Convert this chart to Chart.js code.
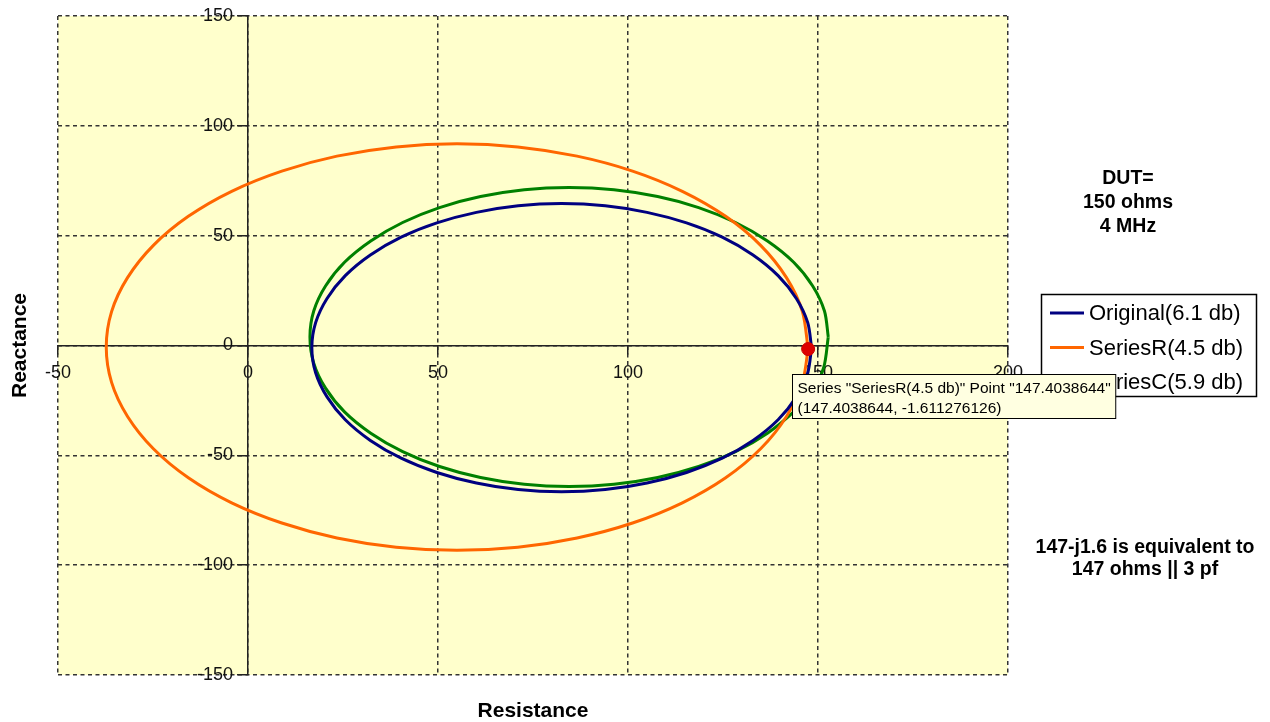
<!DOCTYPE html>
<html>
<head>
<meta charset="utf-8">
<script src="https://cdn.jsdelivr.net/npm/chart.js@4/dist/chart.umd.min.js"></script>
<style>
  html, body { margin: 0; padding: 0; background: #ffffff; }
  canvas { display: block; }
</style>
</head>
<body>
<canvas id="chart" width="1270" height="722"></canvas>
<script>
// Impedance loci: resistance (R) and reactance (X), ohms
const seriesNames = ['Original(6.1 db)', 'SeriesR(4.5 db)', 'SeriesC(5.9 db)'];
const seriesColors = ['#000080', '#FF6600', '#008000'];

const origRes   = [148.3, 147.3, 144.3, 139.5, 132.9, 124.8, 115.4, 105.0, 94.0, 82.5, 71.1, 60.1, 49.7, 40.3, 32.2, 25.6, 20.8, 17.8, 16.8, 17.8, 20.8, 25.6, 32.2, 40.3, 49.7, 60.1, 71.1, 82.5, 94.0, 105.0, 115.4, 124.8, 132.9, 139.5, 144.3, 147.3, 148.3];
const origReact = [-1.0, 10.4, 21.4, 31.8, 41.2, 49.3, 55.8, 60.6, 63.6, 64.6, 63.6, 60.6, 55.8, 49.3, 41.2, 31.8, 21.4, 10.4, -1.0, -12.4, -23.4, -33.8, -43.2, -51.3, -57.8, -62.6, -65.6, -66.6, -65.6, -62.6, -57.8, -51.3, -43.2, -33.8, -23.4, -12.4, -1.0];

const serRRes   = [147.4038644, 145.9, 141.7, 134.9, 125.7, 114.3, 101.2, 86.6, 71.0, 55.0, 39.0, 23.4, 8.9, -4.3, -15.7, -24.9, -31.7, -35.9, -37.3, -35.9, -31.7, -24.9, -15.7, -4.3, 8.9, 23.4, 39.0, 55.0, 71.0, 86.6, 101.2, 114.3, 125.7, 134.9, 141.7, 145.9, 147.4038644];
const serRReact = [-1.611276126, 15.4, 30.9, 45.6, 58.8, 70.2, 79.4, 86.2, 90.4, 91.8, 90.4, 86.2, 79.4, 70.2, 58.8, 45.6, 30.9, 15.4, -0.7, -16.8, -32.3, -47.0, -60.2, -71.6, -80.8, -87.6, -91.8, -93.2, -91.8, -87.6, -80.8, -71.6, -60.2, -47.0, -32.3, -16.8, -1.611276126];

const serCRes   = [152.7, 151.7, 148.6, 143.6, 136.7, 128.3, 118.6, 107.8, 96.3, 84.5, 72.7, 61.2, 50.4, 40.7, 32.3, 25.4, 20.4, 17.3, 16.3, 17.3, 20.4, 25.4, 32.3, 40.7, 50.4, 61.2, 72.7, 84.5, 96.3, 107.8, 118.6, 128.3, 136.7, 143.6, 148.3, 151.5, 152.7];
const serCReact = [3.9, 15.7, 27.1, 37.9, 47.6, 56.0, 62.8, 67.8, 70.9, 71.9, 70.9, 67.8, 62.8, 56.0, 47.6, 37.9, 27.1, 15.7, 3.9, -8.0, -19.4, -30.2, -39.9, -48.3, -55.1, -60.1, -63.2, -64.2, -63.2, -60.1, -55.1, -48.3, -39.9, -30.2, -21.5, -10.0, 3.9];

// Highlighted SeriesR point
const markerRes = [147.4038644];
const markerReact = [-1.611276126];

const resTicks = [-50, 0, 50, 100, 150, 200];
const reactTicks = [-150, -100, -50, 0, 50, 100, 150];

const dutNote = ['DUT=', '150 ohms', '4 MHz'];
const equivNote = ['147-j1.6 is equivalent to', '147 ohms || 3 pf'];

const FONT = "'Liberation Sans', Arial, Helvetica, sans-serif";

function toPoints(xs, ys) {
  return xs.map((x, i) => ({ x: x, y: ys[i] }));
}

const loci = [
  toPoints(origRes, origReact),
  toPoints(serRRes, serRReact),
  toPoints(serCRes, serCReact)
];

const datasets = loci.map((pts, i) => ({
  label: seriesNames[i],
  data: pts,
  showLine: true,
  borderColor: seriesColors[i],
  backgroundColor: seriesColors[i],
  borderWidth: 3,
  pointRadius: 0,
  pointHoverRadius: 0,
  tension: 0.3,
  fill: false
}));

datasets.push({
  label: 'marker',
  data: toPoints(markerRes, markerReact),
  showLine: false,
  pointRadius: 6.5,
  pointBackgroundColor: '#DD0000',
  pointBorderColor: '#CC0000',
  pointBorderWidth: 1,
  order: -1
});

// Plot-area fill
const plotBackground = {
  id: 'plotBackground',
  beforeDraw(chart) {
    const { ctx, chartArea: a } = chart;
    ctx.save();
    ctx.fillStyle = '#ffffff';
    ctx.fillRect(0, 0, chart.width, chart.height);
    ctx.fillStyle = '#FFFFCC';
    ctx.fillRect(a.left, a.top, a.right - a.left, a.bottom - a.top);
    ctx.restore();
  }
};

// Axis titles, notes, legend box and the point callout
const annotations = {
  id: 'annotations',
  afterDraw(chart) {
    const { ctx, chartArea: a } = chart;
    ctx.save();
    ctx.fillStyle = '#000';

    // axis titles
    ctx.font = 'bold 21px ' + FONT;
    ctx.textAlign = 'center';
    ctx.textBaseline = 'alphabetic';
    ctx.fillText('Resistance', (a.left + a.right) / 2, 717);
    ctx.save();
    ctx.translate(26, (a.top + a.bottom) / 2);
    ctx.rotate(-Math.PI / 2);
    ctx.fillText('Reactance', 0, 0);
    ctx.restore();

    // notes
    ctx.font = 'bold 19.5px ' + FONT;
    dutNote.forEach((t, i) => ctx.fillText(t, 1128, 184 + i * 24));
    equivNote.forEach((t, i) => ctx.fillText(t, 1145, 553 + i * 22));

    // legend
    ctx.lineWidth = 1.5;
    ctx.strokeStyle = '#000';
    ctx.strokeRect(1041.5, 294.5, 215, 102);
    ctx.font = '22px ' + FONT;
    ctx.textAlign = 'left';
    ctx.textBaseline = 'middle';
    chart.data.datasets.forEach((ds, i) => {
      if (!seriesNames.includes(ds.label)) return;
      const y = 313 + i * 34.5;
      ctx.strokeStyle = ds.borderColor;
      ctx.lineWidth = 3;
      ctx.beginPath();
      ctx.moveTo(1050, y);
      ctx.lineTo(1084, y);
      ctx.stroke();
      ctx.fillStyle = '#000';
      ctx.fillText(ds.label, 1089, y + 1);
    });

    // callout for the highlighted point
    const meta = chart.getDatasetMeta(chart.data.datasets.length - 1);
    const pt = meta.data[0];
    const src = seriesNames[1];
    const line1 = 'Series "' + src + '" Point "' + markerRes[0] + '"';
    const line2 = '(' + markerRes[0] + ', ' + markerReact[0] + ')';
    ctx.font = '15.5px ' + FONT;
    const w = Math.max(ctx.measureText(line1).width, ctx.measureText(line2).width) + 10;
    const bx = Math.round(pt.x) - 15.5;
    const by = Math.round(pt.y) + 25.5;
    ctx.fillStyle = '#FFFFE1';
    ctx.fillRect(bx, by, w, 44);
    ctx.strokeStyle = '#000';
    ctx.lineWidth = 1;
    ctx.strokeRect(bx, by, w, 44);
    ctx.fillStyle = '#000';
    ctx.textBaseline = 'alphabetic';
    ctx.fillText(line1, bx + 5, by + 18);
    ctx.fillText(line2, bx + 5, by + 38);

    ctx.restore();
  }
};

const gridCommon = {
  color: '#333333',
  lineWidth: 1.5,
  drawTicks: true,
  tickColor: '#222222',
  tickWidth: 1.5
};

new Chart(document.getElementById('chart'), {
  type: 'scatter',
  data: { datasets: datasets },
  options: {
    responsive: false,
    animation: false,
    layout: { padding: { left: 58, right: 262, top: 16, bottom: 47 } },
    plugins: {
      legend: { display: false },
      tooltip: { enabled: false },
      title: { display: false }
    },
    scales: {
      x: {
        type: 'linear',
        position: { y: 0 },
        min: resTicks[0],
        max: resTicks[resTicks.length - 1],
        afterBuildTicks: s => { s.ticks = resTicks.map(v => ({ value: v })); },
        grid: Object.assign({ tickLength: 8 }, gridCommon),
        border: { display: true, color: '#222222', width: 1.5, dash: [4, 3.5] },
        ticks: { color: '#111', font: { family: FONT, size: 18 }, padding: 9, maxRotation: 0, autoSkip: false }
      },
      y: {
        type: 'linear',
        position: { x: 0 },
        min: reactTicks[0],
        max: reactTicks[reactTicks.length - 1],
        afterBuildTicks: s => { s.ticks = reactTicks.map(v => ({ value: v })); },
        grid: Object.assign({ tickLength: 10 }, gridCommon),
        border: { display: true, color: '#222222', width: 1.5, dash: [4, 3.5] },
        // trailing gap keeps the labels clear of the tick marks
        ticks: { color: '#111', font: { family: FONT, size: 18 }, autoSkip: false, callback: v => v + '   ' }
      }
    }
  },
  plugins: [plotBackground, annotations]
});
</script>
</body>
</html>
